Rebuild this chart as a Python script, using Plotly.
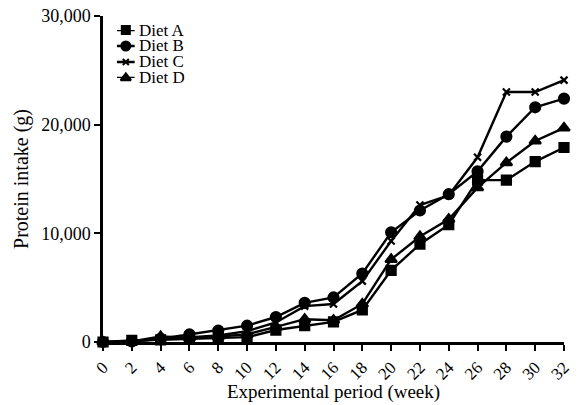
import plotly.graph_objects as go

weeks = [0, 2, 4, 6, 8, 10, 12, 14, 16, 18, 20, 22, 24, 26, 28, 30, 32]
diet_a = [0, 150, 200, 300, 350, 450, 1100, 1500, 1850, 2950, 6600, 9000, 10800, 14900, 14900, 16600, 17900]
diet_b = [0, 50, 300, 700, 1050, 1500, 2300, 3600, 4100, 6300, 10100, 12100, 13600, 15700, 18900, 21600, 22400]
diet_c = [0, 50, 250, 400, 600, 1000, 1800, 3300, 3500, 5600, 9300, 12600, 13500, 17000, 23000, 23000, 24100]
diet_d = [0, 50, 500, 400, 500, 700, 1400, 2100, 2000, 3500, 7600, 9700, 11300, 14200, 16500, 18500, 19700]
y_ticks = [0, 10000, 20000, 30000]

series = [
    ("Diet A", diet_a, "square", 9),
    ("Diet B", diet_b, "circle", 10),
    ("Diet C", diet_c, "x-thin", 7),
    ("Diet D", diet_d, "triangle-up", 10),
]

FONT = "Liberation Serif"
LW = 2.4

fig = go.Figure()
for name, vals, sym, size in series:
    fig.add_trace(go.Scatter(
        x=weeks, y=vals, name=name, mode="lines+markers",
        line=dict(color="black", width=LW),
        marker=dict(symbol=sym, size=size, color="black",
                    line=dict(color="black", width=2.2)),
        cliponaxis=False, showlegend=False,
    ))

# compact legend drawn on an invisible secondary axis pair
for i, (name, vals, sym, size) in enumerate(series):
    fig.add_trace(go.Scatter(
        x=[0, 1], y=[-i, -i], mode="lines",
        line=dict(color="black", width=LW),
        xaxis="x2", yaxis="y2", showlegend=False, hoverinfo="skip",
        cliponaxis=False,
    ))
    fig.add_trace(go.Scatter(
        x=[0.5], y=[-i], mode="markers",
        marker=dict(symbol=sym, size=size - 1, color="black",
                    line=dict(color="black", width=2)),
        xaxis="x2", yaxis="y2", showlegend=False, hoverinfo="skip",
        cliponaxis=False,
    ))
    fig.add_annotation(x=1, y=-i, xref="x2", yref="y2", text=name,
                       showarrow=False, xanchor="left", yanchor="middle",
                       xshift=2, height=15, valign="middle",
                       font=dict(family=FONT, size=17, color="black"))

# x-axis title placed as an annotation below the rotated tick labels
fig.add_annotation(x=0.5, y=-0.152, xref="paper", yref="paper",
                   text="Experimental period (week)", showarrow=False,
                   xanchor="center", yanchor="middle",
                   font=dict(family=FONT, size=19, color="black"))

fig.update_layout(
    width=578, height=405,
    margin=dict(l=103, r=14, t=16, b=63),
    paper_bgcolor="white", plot_bgcolor="white",
    font=dict(family=FONT, size=18, color="black"),
    showlegend=False,
    xaxis=dict(
        domain=[0, 1],
        range=[0, 32], tickvals=weeks, ticktext=[str(w) for w in weeks],
        tickangle=-45, showline=True, linecolor="black", linewidth=2.5,
        ticks="outside", ticklen=6, tickwidth=2, tickcolor="black",
        showgrid=False, zeroline=False, automargin=False,
        tickfont=dict(family=FONT, size=17),
    ),
    yaxis=dict(
        domain=[0, 1],
        range=[0, 30000], tickvals=y_ticks, tickformat=",",
        showline=True, linecolor="black", linewidth=2.5,
        ticks="outside", ticklen=6, tickwidth=2, tickcolor="black",
        showgrid=False, zeroline=False, automargin=False,
        tickfont=dict(family=FONT, size=18),
        title=dict(text="Protein intake (g)", font=dict(family=FONT, size=20), standoff=8),
    ),
    xaxis2=dict(domain=[0.030, 0.069], range=[0, 1], visible=False,
                anchor="y2", showgrid=False, zeroline=False),
    yaxis2=dict(domain=[0.810, 0.957], range=[-3, 0], visible=False,
                anchor="x2", showgrid=False, zeroline=False),
)

fig.write_html(
    "out.html",
    config={"displayModeBar": False},
    post_script="document.body.style.margin='0';document.body.style.padding='0';",
)
